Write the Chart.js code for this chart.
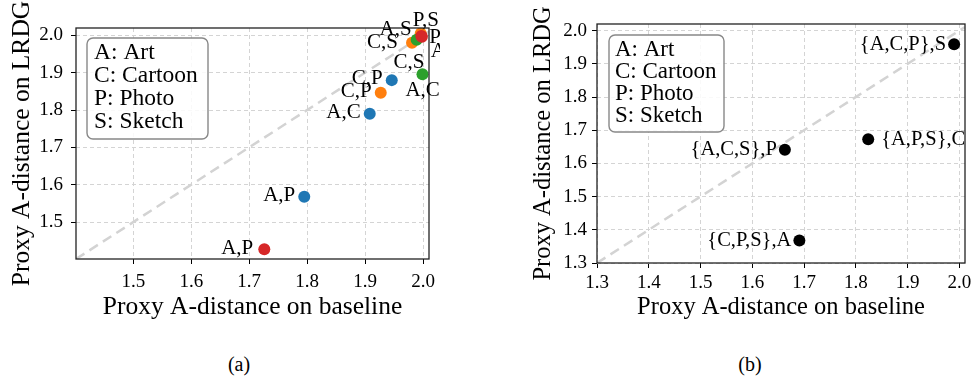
<!DOCTYPE html>
<html>
<head>
<meta charset="utf-8">
<script src="https://cdn.jsdelivr.net/npm/chart.js@4.4.1/dist/chart.umd.min.js"></script>
<style>
  body { margin: 0; background: #fff; }
  #wrap { position: relative; width: 974px; height: 381px; background: #fff; }
  #wrap canvas { position: absolute; top: 0; }
  .cap { position: absolute; top: 353px; width: 60px; text-align: center; font: 20px "Liberation Serif", serif; color: #000; }
</style>
</head>
<body>
<div id="wrap">
  <canvas id="chartA" width="440" height="330" style="left:0px"></canvas>
  <canvas id="chartB" width="494" height="330" style="left:480px"></canvas>
  <div class="cap" style="left:209px">(a)</div>
  <div class="cap" style="left:720px">(b)</div>
</div>
<script>
// (a) domain pairs, one colour per group
const blueX = [1.795, 1.908, 1.946];
const blueY = [1.568, 1.790, 1.880];
const blueLabels = ["A,P", "A,C", "C,P"];

const orangeX = [1.927, 1.981, 1.996];
const orangeY = [1.846, 1.980, 2.005];
const orangeLabels = ["C,P", "C,S", "P,S"];

const greenX = [1.999, 2.025, 1.989];
const greenY = [1.896, 1.927, 1.988];
const greenLabels = ["A,C", "C,S", "A,S"];

const redX = [1.726, 1.997, 1.998];
const redY = [1.427, 1.998, 1.996];
const redLabels = ["A,P", "P,S", "A,S"];

const xTicksA = [1.5, 1.6, 1.7, 1.8, 1.9, 2.0];
const yTicksA = [1.5, 1.6, 1.7, 1.8, 1.9, 2.0];
const xTickLabelsA = ["1.5", "1.6", "1.7", "1.8", "1.9", "2.0"];
const yTickLabelsA = ["1.5", "1.6", "1.7", "1.8", "1.9", "2.0"];

// (b) three source domains -> target
const blackX = [1.990, 1.824, 1.663, 1.691];
const blackY = [1.959, 1.673, 1.641, 1.368];
const blackLabels = ["{A,C,P},S", "{A,P,S},C", "{A,C,S},P", "{C,P,S},A"];

const xTicksB = [1.3, 1.4, 1.5, 1.6, 1.7, 1.8, 1.9, 2.0];
const yTicksB = [1.3, 1.4, 1.5, 1.6, 1.7, 1.8, 1.9, 2.0];
const xTickLabelsB = ["1.3", "1.4", "1.5", "1.6", "1.7", "1.8", "1.9", "2.0"];
const yTickLabelsB = ["1.3", "1.4", "1.5", "1.6", "1.7", "1.8", "1.9", "2.0"];

const domainNames = ["A: Art", "C: Cartoon", "P: Photo", "S: Sketch"];

const SERIF = '"Liberation Serif", "Times New Roman", serif';

// where each point label sits, relative to its point (px)
const labelPosA = [
  [[-9, -1, "right"], [-9, -1, "right"], [-9, -2, "right"]],
  [[-9, -1, "right"], [-14, 0, "right"], [-8, -13, "left"]],
  [[-17, 16, "left"], [-13, 0, "right"], [-5, -10, "right"]],
  [[-11, -1, "right"], [8, 1, "left"], [9, 15, "left"]]
];
const labelPosB = [[-8, 0, "right"], [13, 0, "left"], [-8, 0, "right"], [-8, 0, "right"]];

function pts(xs, ys) {
  return xs.map((x, i) => ({ x: x, y: ys[i] }));
}

// frame, point labels and the domain text box
const annotPlugin = {
  id: "annot",
  afterDatasetsDraw(chart, args, opts) {
    const ctx = chart.ctx;
    const a = chart.chartArea;

    ctx.save();
    ctx.strokeStyle = "#222";
    ctx.lineWidth = 1.3;
    ctx.strokeRect(a.left, a.top, a.right - a.left, a.bottom - a.top);

    ctx.fillStyle = "#000";
    ctx.font = opts.labelSize + "px " + SERIF;
    ctx.textBaseline = "middle";
    opts.labels.forEach(function(list, di) {
      const meta = chart.getDatasetMeta(opts.firstSet + di);
      list.forEach(function(txt, j) {
        const el = meta.data[j];
        const p = opts.pos[di][j];
        ctx.textAlign = p[2];
        ctx.fillText(txt, el.x + p[0], el.y + p[1]);
      });
    });

    // text box
    const b = opts.box;
    const bx = a.left + b.x, by = a.top + b.y;
    ctx.beginPath();
    ctx.roundRect(bx, by, b.w, b.h, 6);
    ctx.fillStyle = "rgba(255,255,255,0.85)";
    ctx.fill();
    ctx.strokeStyle = "#888";
    ctx.lineWidth = 1.4;
    ctx.stroke();
    ctx.fillStyle = "#000";
    ctx.textAlign = "left";
    ctx.font = b.size + "px " + SERIF;
    domainNames.forEach(function(t, i) {
      ctx.fillText(t, bx + b.tx, by + b.ty + i * b.gap);
    });
    ctx.restore();
  }
};

function axis(opts) {
  return {
    type: "linear",
    position: opts.position,
    min: opts.min,
    max: opts.max,
    afterBuildTicks: function(s) { s.ticks = opts.ticks.map(v => ({ value: v })); },
    afterFit: function(s) {
      // fixed box, no extra room for overhanging labels
      if (opts.position === "bottom") s.height = opts.size;
      else s.width = opts.size;
      s.paddingLeft = s.paddingRight = s.paddingTop = s.paddingBottom = 0;
    },
    ticks: {
      autoSkip: false,
      maxRotation: 0,
      color: "#000",
      padding: opts.tickPad,
      font: { family: SERIF, size: 19 },
      callback: (v, i) => opts.labels[i]
    },
    grid: {
      color: "#d4d4d4",
      lineWidth: 1,
      tickLength: 5,
      tickColor: "#000",
      tickWidth: 1,
      tickBorderDash: []
    },
    border: { display: false, dash: [4, 3] },
    title: {
      display: true,
      text: opts.title,
      color: "#000",
      font: { family: SERIF, size: opts.titleSize, lineHeight: 1 },
      padding: opts.titlePad
    }
  };
}

function diagonal(lo, hi) {
  return {
    type: "line",
    data: [{ x: lo, y: lo }, { x: hi, y: hi }],
    borderColor: "#d3d3d3",
    borderWidth: 2.5,
    borderDash: [10, 6],
    pointRadius: 0,
    fill: false,
    clip: 0,
    order: 10
  };
}

function dots(xs, ys, color, order) {
  return {
    data: pts(xs, ys),
    backgroundColor: color,
    borderWidth: 0,
    pointRadius: 6,
    clip: 0,
    order: order
  };
}

const baseOpts = {
  responsive: false,
  animation: false,
  events: [],
  plugins: { legend: { display: false }, tooltip: { enabled: false } }
};

new Chart(document.getElementById("chartA"), {
  type: "scatter",
  data: {
    datasets: [
      diagonal(1.401, 2.0103),
      dots(blueX, blueY, "#1f77b4", 4),
      dots(orangeX, orangeY, "#ff7f0e", 3),
      dots(greenX, greenY, "#2ca02c", 2),
      dots(redX, redY, "#d62728", 1)
    ]
  },
  options: Object.assign({}, baseOpts, {
    layout: { padding: { top: 28, right: 11, left: 0, bottom: 0 } },
    scales: {
      x: axis({ position: "bottom", min: 1.401, max: 2.0103, ticks: xTicksA, labels: xTickLabelsA,
                size: 71, tickPad: 7, title: "Proxy A-distance on baseline", titleSize: 25.5,
                titlePad: { top: 0, bottom: 10 } }),
      y: axis({ position: "left", min: 1.401, max: 2.0196, ticks: yTicksA, labels: yTickLabelsA,
                size: 76, tickPad: 8, title: "Proxy A-distance on LRDG", titleSize: 25.5,
                titlePad: { top: 10, bottom: 0 } })
    },
    plugins: Object.assign({}, baseOpts.plugins, {
      annot: {
        labels: [blueLabels, orangeLabels, greenLabels, redLabels],
        firstSet: 1,
        pos: labelPosA,
        labelSize: 21,
        box: { x: 11, y: 10, w: 121, h: 101, tx: 7, ty: 15, gap: 23, size: 23.5 }
      }
    })
  }),
  plugins: [annotPlugin]
});

new Chart(document.getElementById("chartB"), {
  type: "scatter",
  data: {
    datasets: [
      diagonal(1.3, 2.011),
      dots(blackX, blackY, "#000", 1)
    ]
  },
  options: Object.assign({}, baseOpts, {
    layout: { padding: { top: 24, right: 9, left: 0, bottom: 0 } },
    scales: {
      x: axis({ position: "bottom", min: 1.3, max: 2.011, ticks: xTicksB, labels: xTickLabelsB,
                size: 67, tickPad: 4, title: "Proxy A-distance on baseline", titleSize: 24.5,
                titlePad: { top: 0, bottom: 10 } }),
      y: axis({ position: "left", min: 1.3, max: 2.020, ticks: yTicksB, labels: yTickLabelsB,
                size: 117, tickPad: 5, title: "Proxy A-distance on LRDG", titleSize: 24.5,
                titlePad: { top: 51, bottom: 0 } })
    },
    plugins: Object.assign({}, baseOpts.plugins, {
      annot: {
        labels: [blackLabels],
        firstSet: 1,
        pos: [labelPosB],
        labelSize: 20.5,
        box: { x: 12, y: 11, w: 115, h: 97, tx: 6, ty: 15, gap: 22, size: 23 }
      }
    })
  }),
  plugins: [annotPlugin]
});
</script>
</body>
</html>
